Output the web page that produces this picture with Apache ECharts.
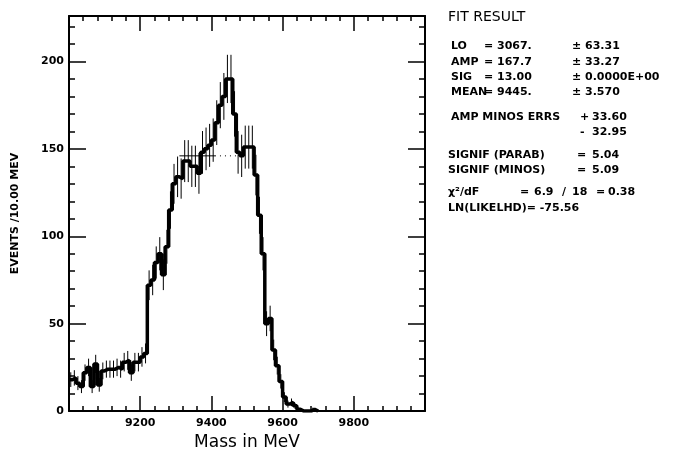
<!DOCTYPE html>
<html>
<head>
<meta charset="utf-8">
<script src="https://cdn.jsdelivr.net/npm/echarts@6/dist/echarts.min.js"></script>
<style>html,body{margin:0;padding:0;background:#fff}#c{width:683px;height:456px}</style>
</head>
<body>
<div id="c"></div>
<script>
// ---- data (10 MeV bins starting at 9000 MeV) ----
const binStart = 9000;
const binWidth = 10;
const counts = [18,19,16,14,22,25,14,27,15,23,24,24,24,25,24,28,29,22,28,28,
                31,33,72,75,85,90,78,94,115,130,134,133,143,143,140,140,136,148,150,152,
                155,165,175,180,190,190,170,148,146,151,151,151,135,112,90,50,53,35,26,17,
                8,4,5,3,1,0,0,0,1,0];
const errors = [4.2,4.4,4,3.7,4.7,5,3.7,5.2,3.9,4.8,4.9,4.9,4.9,5,4.9,5.3,5.4,4.7,5.3,5.3,
                5.6,5.7,8.5,8.7,9.2,9.5,8.8,9.7,10.7,11.4,11.6,11.5,12,12,11.8,11.8,11.7,12.2,12.2,12.3,
                12.4,12.8,13.2,13.4,13.8,13.8,13,12.2,12.1,12.3,12.3,12.3,11.6,10.6,9.5,7.1,7.3,5.9,5.1,4.1,
                2.8,2,2.2,1.7,1,0,0,0,1,0];
const fitLine = [[9310,146],[9410,146]];
const fitDotted = [[9410,146],[9475,146]];
const xTickLabels = [9200,9400,9600,9800];
const yTickLabels = [0,50,100,150,200];
const fitRows = [
  ['LO', '=', '3067.', '±', '63.31'],
  ['AMP', '=', '167.7', '±', '33.27'],
  ['SIG', '=', '13.00', '±', '0.0000E+00'],
  ['MEAN', '=', '9445.', '±', '3.570']
];

// ---- build ----
const histPts = counts.map((v,i)=>[binStart+i*binWidth, v]);
histPts.push([binStart+counts.length*binWidth, counts[counts.length-1]]);
const errData = counts.map((v,i)=>[binStart+i*binWidth+binWidth/2, v-errors[i], v+errors[i]]);

const FONT = '"DejaVu Sans", sans-serif';
const black = '#000';
function xAx(pos, interval, len, showLine, labels, name){
  return {type:'value', position:pos, min:9000, max:10000, interval:interval,
    axisLine:{show:showLine, onZero:false, lineStyle:{color:black,width:2}},
    axisTick:{show:true, inside:true, length:len, lineStyle:{color:black,width:1.5}},
    axisLabel:{show:labels, margin:7, color:black, fontFamily:FONT, fontWeight:'bold', fontSize:11,
      formatter:v=> xTickLabels.indexOf(v)>=0 ? String(v) : ''},
    splitLine:{show:false},
    name: name||'', nameLocation:'middle', nameGap:22,
    nameTextStyle:{color:black, fontFamily:FONT, fontSize:17}};
}
function yAx(pos, interval, len, showLine, labels, name){
  return {type:'value', position:pos, min:0, max:226, interval:interval,
    axisLine:{show:showLine, onZero:false, lineStyle:{color:black,width:2}},
    axisTick:{show:true, inside:true, length:len, lineStyle:{color:black,width:1.5}},
    axisLabel:{show:labels, margin:5, color:black, fontFamily:FONT, fontWeight:'bold', fontSize:11,
      formatter:v=> yTickLabels.indexOf(v)>=0 ? String(v) : ''},
    splitLine:{show:false},
    name: name||'', nameLocation:'middle', nameGap:48,
    nameTextStyle:{color:black, fontFamily:FONT, fontSize:11, fontWeight:'bold'}};
}

const graphics = [];
function txt(x,y,s,size,weight){
  graphics.push({type:'text', x:x, y:y, style:{text:s, fill:black, fontFamily:FONT,
    fontSize:size||11, fontWeight:weight||'bold', verticalAlign:'middle', align:'left'}});
}
txt(448,17,'FIT RESULT',14,'normal');
const rowY = [46,62,77,92];
fitRows.forEach((r,i)=>{
  txt(451,rowY[i],r[0]); txt(484,rowY[i],r[1]); txt(497,rowY[i],r[2]);
  txt(572,rowY[i],r[3]); txt(585,rowY[i],r[4]);
});
txt(451,117,'AMP MINOS ERRS'); txt(580,117,'+'); txt(592,117,'33.60');
txt(580,132,'-'); txt(592,132,'32.95');
txt(448,155,'SIGNIF (PARAB)'); txt(577,155,'='); txt(592,155,'5.04');
txt(448,170,'SIGNIF (MINOS)'); txt(577,170,'='); txt(592,170,'5.09');
txt(448,192,'χ²/dF'); txt(520,192,'='); txt(534,192,'6.9'); txt(562,192,'/'); txt(572,192,'18'); txt(596,192,'='); txt(608,192,'0.38');
txt(448,208,'LN(LIKELHD)= -75.56');

const chart = echarts.init(document.getElementById('c'));
chart.setOption({
  animation:false,
  backgroundColor:'#fff',
  grid:{left:69, right:258, top:16, bottom:39, containLabel:false},
  xAxis:[xAx('bottom',200,15,true,true,'Mass in MeV'), xAx('bottom',40,5,false,false),
         xAx('top',200,15,true,false), xAx('top',40,5,false,false)],
  yAxis:[yAx('left',50,17,true,true,'EVENTS /10.00 MEV'), yAx('left',10,6,false,false),
         yAx('right',50,17,true,false), yAx('right',10,6,false,false)],
  graphic: graphics,
  series:[
    {type:'line', step:'end', data:histPts, symbol:'none', xAxisIndex:0, yAxisIndex:0,
     lineStyle:{color:black, width:3.5}},
    {type:'custom', data:errData, xAxisIndex:0, yAxisIndex:0,
     renderItem:(params, api)=>{
       const p1 = api.coord([api.value(0), api.value(1)]);
       const p2 = api.coord([api.value(0), api.value(2)]);
       return {type:'line', shape:{x1:p1[0],y1:p1[1],x2:p2[0],y2:p2[1]}, style:{stroke:black, lineWidth:1}};
     }},
    {type:'line', data:fitLine, symbol:'none', lineStyle:{color:black,width:1}},
    {type:'line', data:fitDotted, symbol:'none', lineStyle:{color:black,width:1,type:[1,4]}}
  ]
});
</script>
</body>
</html>
